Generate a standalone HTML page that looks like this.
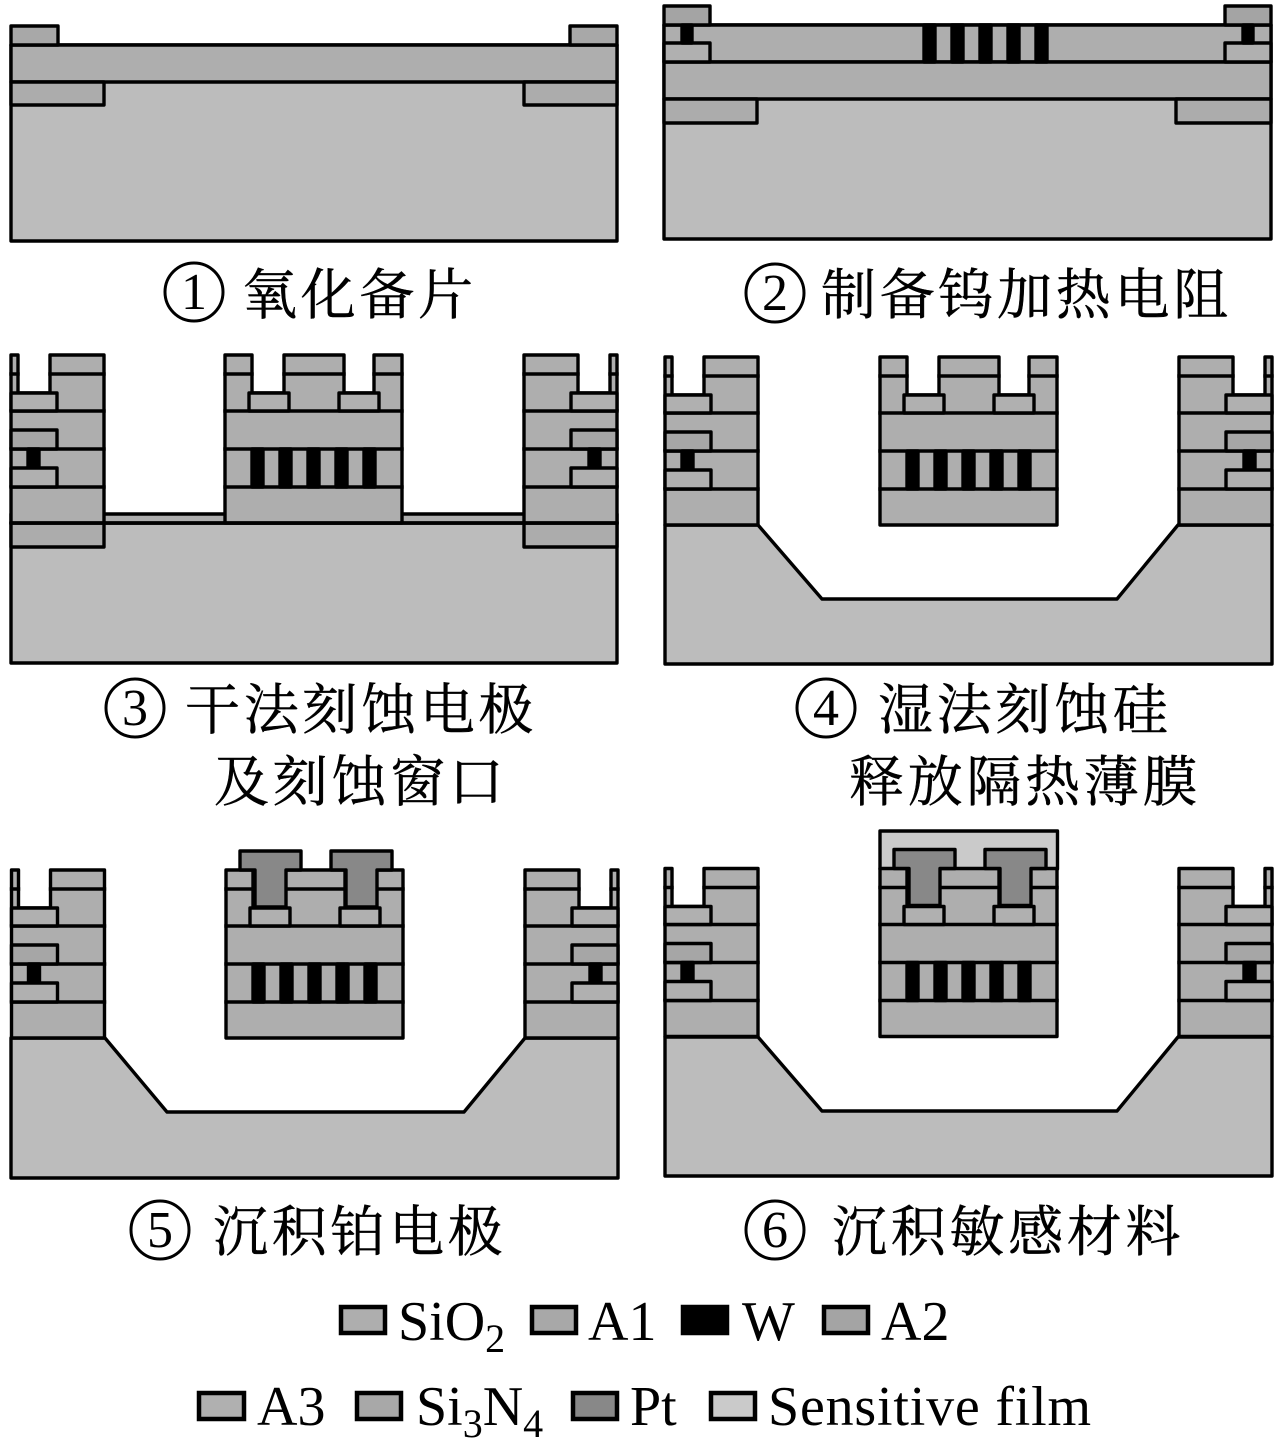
<!DOCTYPE html>
<html lang="zh"><head><meta charset="utf-8"><title>Process flow</title>
<style>
html,body{margin:0;padding:0;background:#fff}
svg{display:block}
.cn{font-family:"Liberation Serif","Noto Serif CJK SC",serif;font-size:55px;fill:#000;stroke:#000;stroke-width:.5;letter-spacing:3.7px}
.d{font-family:"Liberation Serif",serif;font-size:52px;fill:#000;text-anchor:middle}
.t{font-family:"Liberation Serif",serif;font-size:56px;fill:#000}
.s{font-size:40px}
.c{fill:none;stroke:#000;stroke-width:3}
.k{stroke:#000;stroke-width:3.4;stroke-linejoin:round;stroke-linecap:square}
.lg{stroke:#000;stroke-width:4.5}
</style></head>
<body>
<svg xmlns="http://www.w3.org/2000/svg" width="1284" height="1453" viewBox="0 0 1284 1453">
<defs>
<g id="pl" class="k">
<path d="M0 0H7V38H39V0H93V168H0Z" fill="#aeaeae"/>
<path d="M0 19H7M39 19H93M0 56H93M0 94H93M0 132H93" fill="none"/>
<rect x="0" y="38" width="46" height="18" fill="#b0b0b0"/>
<rect x="0" y="75" width="46" height="19" fill="#a6a6a6"/>
<rect x="17" y="94" width="11" height="19" fill="#000"/>
<rect x="0" y="113" width="46" height="19" fill="#b0b0b0"/>
</g>
<g id="pc" class="k">
<path d="M0 0H27V38H59V0H119V38H149V0H177V168H0Z" fill="#aeaeae"/>
<path d="M0 19H27M59 19H119M149 19H177M0 56H177M0 94H177M0 132H177" fill="none"/>
<rect x="24" y="38" width="40" height="18" fill="#b0b0b0"/>
<rect x="114" y="38" width="40" height="18" fill="#b0b0b0"/>
<g fill="#000"><rect x="27" y="94" width="11" height="38"/><rect x="55" y="94" width="11" height="38"/><rect x="83" y="94" width="11" height="38"/><rect x="111" y="94" width="11" height="38"/><rect x="139" y="94" width="11" height="38"/></g>
</g>
<g id="pt" class="k" fill="#888">
<path d="M14 -19H75V0H60V37H29V0H14Z"/>
<path d="M105 -19H166V0H151V37H120V0H105Z"/>
</g>
</defs>
<rect width="1284" height="1453" fill="#fff"/>

<!-- Panel 1 -->
<g class="k">
<rect x="11" y="45" width="606" height="196" fill="#bcbcbc"/>
<rect x="11" y="45" width="606" height="37" fill="#aeaeae"/>
<rect x="11" y="26" width="47" height="19" fill="#a8a8a8"/>
<rect x="570" y="26" width="47" height="19" fill="#a8a8a8"/>
<rect x="11" y="82" width="93" height="23" fill="#acacac"/>
<rect x="524" y="82" width="93" height="23" fill="#acacac"/>
</g>

<!-- Panel 2 -->
<g class="k">
<rect x="664" y="25" width="607" height="214" fill="#bcbcbc"/>
<rect x="664" y="25" width="607" height="37" fill="#aeaeae"/>
<rect x="664" y="62" width="607" height="37" fill="#aeaeae"/>
<rect x="664" y="6" width="46" height="19" fill="#a4a4a4"/>
<rect x="1225" y="6" width="46" height="19" fill="#a4a4a4"/>
<rect x="664" y="43" width="46" height="19" fill="#b0b0b0"/>
<rect x="1225" y="43" width="46" height="19" fill="#b0b0b0"/>
<rect x="682" y="25" width="10" height="18" fill="#000"/>
<rect x="1243" y="25" width="10" height="18" fill="#000"/>
<rect x="664" y="99" width="93" height="24" fill="#acacac"/>
<rect x="1176" y="99" width="95" height="24" fill="#acacac"/>
<g fill="#000"><rect x="924" y="25" width="11" height="37"/><rect x="952" y="25" width="11" height="37"/><rect x="980" y="25" width="11" height="37"/><rect x="1008" y="25" width="11" height="37"/><rect x="1036" y="25" width="11" height="37"/></g>
</g>

<!-- Panel 3 -->
<g class="k">
<rect x="11" y="523" width="606" height="140" fill="#bcbcbc"/>
<rect x="11" y="514" width="606" height="9" fill="#aeaeae"/>
<rect x="11" y="523" width="93" height="24" fill="#acacac"/>
<rect x="524" y="523" width="93" height="24" fill="#acacac"/>
</g>
<use href="#pl" transform="translate(11 355)"/>
<use href="#pl" transform="translate(617 355) scale(-1 1)"/>
<use href="#pc" transform="translate(225 355)"/>
<path class="k" d="M11 523H617" fill="none"/>

<!-- Panel 4 -->
<path class="k" d="M665 525H758L822 599H1117L1178 525H1272V664H665Z" fill="#bcbcbc"/>
<use href="#pl" transform="translate(665 357)"/>
<use href="#pl" transform="translate(1272 357) scale(-1 1)"/>
<use href="#pc" transform="translate(880 357)"/>

<!-- Panel 5 -->
<path class="k" d="M11 1038H105L167 1112H464L525 1038H618V1178H11Z" fill="#bcbcbc"/>
<use href="#pl" transform="translate(11.500 870)"/>
<use href="#pl" transform="translate(618 870) scale(-1 1)"/>
<use href="#pc" transform="translate(226 870)"/>
<use href="#pt" transform="translate(226 870)"/>

<!-- Panel 6 -->
<path class="k" d="M665 1037H758L822 1111H1117L1178 1037H1272V1176H665Z" fill="#bcbcbc"/>
<use href="#pl" transform="translate(665 868.500)"/>
<use href="#pl" transform="translate(1272 868.500) scale(-1 1)"/>
<rect class="k" x="880" y="831" width="177.500" height="38" fill="#cacaca"/>
<use href="#pc" transform="translate(880 868.500)"/>
<use href="#pt" transform="translate(880 868.500)"/>

<!-- Captions -->
<circle class="c" cx="194" cy="292" r="29"/><text class="d" x="194" y="309">1</text>
<text class="cn" x="242" y="314">氧化备片</text>
<circle class="c" cx="775" cy="293" r="29"/><text class="d" x="775" y="310">2</text>
<text class="cn" x="821" y="314">制备钨加热电阻</text>
<circle class="c" cx="135" cy="708" r="29"/><text class="d" x="135" y="725">3</text>
<text class="cn" x="185" y="729">干法刻蚀电极</text>
<text class="cn" x="214" y="801">及刻蚀窗口</text>
<circle class="c" cx="826" cy="708" r="29"/><text class="d" x="826" y="725">4</text>
<text class="cn" x="878" y="729">湿法刻蚀硅</text>
<text class="cn" x="849" y="801">释放隔热薄膜</text>
<circle class="c" cx="160" cy="1230" r="29"/><text class="d" x="160" y="1247">5</text>
<text class="cn" x="213" y="1251">沉积铂电极</text>
<circle class="c" cx="775" cy="1230" r="29"/><text class="d" x="775" y="1247">6</text>
<text class="cn" x="832" y="1251">沉积敏感材料</text>

<!-- Legend -->
<rect class="lg" x="341" y="1307" width="44" height="26" fill="#aeaeae"/>
<text class="t" x="398" y="1340">SiO<tspan class="s" dy="12">2</tspan></text>
<rect class="lg" x="532" y="1307" width="44" height="26" fill="#a8a8a8"/>
<text class="t" x="588" y="1340">A1</text>
<rect class="lg" x="683" y="1307" width="44" height="26" fill="#000"/>
<text class="t" x="742" y="1340">W</text>
<rect class="lg" x="824" y="1307" width="44" height="26" fill="#a4a4a4"/>
<text class="t" x="881" y="1340">A2</text>

<rect class="lg" x="199" y="1393" width="45" height="26" fill="#b0b0b0"/>
<text class="t" x="257" y="1425">A3</text>
<rect class="lg" x="357" y="1393" width="44" height="26" fill="#a8a8a8"/>
<text class="t" x="416" y="1425">Si<tspan class="s" dy="12">3</tspan><tspan dy="-12">N</tspan><tspan class="s" dy="12">4</tspan></text>
<rect class="lg" x="573" y="1393" width="44" height="26" fill="#888"/>
<text class="t" x="630" y="1425">Pt</text>
<rect class="lg" x="711" y="1393" width="44" height="26" fill="#cacaca"/>
<text class="t" x="768" y="1425" style="letter-spacing:.8px">Sensitive film</text>
</svg>
</body></html>
